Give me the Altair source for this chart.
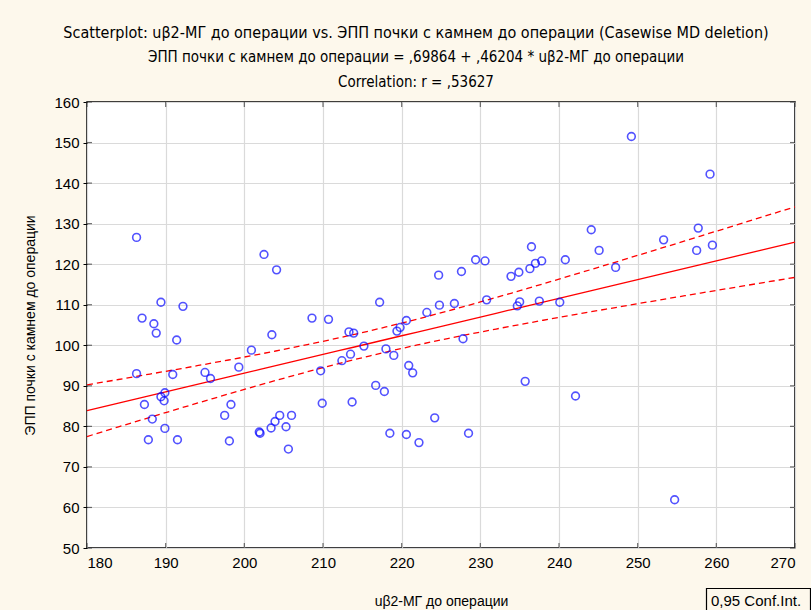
import altair as alt
import numpy as np
import pandas as pd

# uβ2-МГ до операции
x_vals = [186.3, 202.5, 204.1, 189.4, 192.2, 187.0, 188.5, 208.6, 210.7, 188.8,
          191.4, 203.5, 200.9, 186.3, 190.9, 195.0, 195.7, 199.3, 209.7, 189.9,
          189.4, 189.8, 187.3, 198.3, 209.9, 197.5, 188.3, 204.5, 206.0, 203.9,
          203.4, 205.3, 201.9, 202.0, 189.9, 187.8, 191.5, 198.1, 205.6, 236.5,
          229.4, 230.6, 237.8, 237.0, 240.8, 236.3, 234.9, 233.9, 224.7, 227.6,
          217.2, 224.8, 226.7, 230.8, 235.0, 234.7, 237.5, 240.1, 223.2, 220.6,
          219.8, 219.4, 213.3, 213.9, 227.8, 215.2, 218.0, 219.0, 213.5, 212.4,
          220.9, 221.4, 235.7, 216.7, 217.8, 213.7, 224.2, 218.5, 220.6, 228.5,
          222.2, 249.2, 259.2, 244.1, 257.7, 253.3, 245.1, 257.5, 259.5, 247.2,
          242.1, 254.7]
# ЭПП почки с камнем до операции
y_vals = [126.6, 122.4, 118.6, 110.6, 109.6, 106.7, 105.3, 106.7, 106.4, 103.0,
          101.3, 102.6, 98.8, 93.0, 92.8, 93.3, 91.8, 94.6, 93.7, 88.3,
          87.3, 86.3, 85.4, 85.4, 85.7, 82.7, 81.8, 82.7, 82.7, 81.2,
          79.6, 79.9, 78.6, 78.3, 79.5, 76.7, 76.7, 76.4, 74.4, 124.3,
          121.1, 120.8, 120.8, 120.2, 121.1, 118.9, 118.0, 117.0, 117.3, 118.2,
          110.6, 109.9, 110.3, 111.2, 110.7, 109.7, 110.9, 110.6, 108.1, 106.1,
          104.4, 103.5, 103.3, 103.0, 101.6, 99.8, 99.1, 97.5, 97.8, 96.2,
          95.0, 93.2, 91.1, 90.1, 88.6, 86.0, 82.1, 78.3, 78.0, 78.3,
          76.0, 151.5, 142.2, 128.5, 128.9, 126.0, 123.4, 123.4, 124.7, 119.2,
          87.5, 61.9]

intercept = 0.69864
slope = 0.46204
r_value = 0.53627
t_crit = 1.9867  # t(0.975, df = n - 2)

x_ticks = list(range(180, 271, 10))
y_ticks = list(range(50, 161, 10))

X_TITLE = "uβ2-МГ до операции"
Y_TITLE = "ЭПП почки с камнем до операции"


def comma(v):
    return f"{v:.5f}".lstrip("0").replace(".", ",")


title_lines = [
    f"Scatterplot: {X_TITLE} vs. {Y_TITLE} (Casewise MD deletion)",
    f"{Y_TITLE} = {comma(intercept)} + {comma(slope)} * {X_TITLE}",
    f"Correlation: r = {comma(r_value)}",
]

W, H = 708, 446
BG = "#FDF8EC"
NARROW = "Liberation Sans Narrow, Arial Narrow, DejaVu Sans Condensed, sans-serif"
SANS = "Liberation Sans, Arial, sans-serif"

pts = pd.DataFrame({"x": x_vals, "y": y_vals})

# regression line and 95% confidence band for the mean
xa = np.array(x_vals)
ya = np.array(y_vals)
n = len(xa)
resid = ya - (intercept + slope * xa)
s = np.sqrt((resid ** 2).sum() / (n - 2))
sxx = ((xa - xa.mean()) ** 2).sum()
grid = np.linspace(x_ticks[0], x_ticks[-1], 46)
fit = intercept + slope * grid
half = t_crit * s * np.sqrt(1 / n + (grid - xa.mean()) ** 2 / sxx)
band = pd.DataFrame({"x": grid, "fit": fit, "lo": fit - half, "hi": fit + half})

xs = alt.Scale(domain=[x_ticks[0], x_ticks[-1]], nice=False, zero=False)
ys = alt.Scale(domain=[y_ticks[0], y_ticks[-1]], nice=False, zero=False)

x_enc = alt.X(
    "x:Q", scale=xs, title=X_TITLE,
    axis=alt.Axis(values=x_ticks, format="d", labelFontSize=15, labelFont=SANS,
                  labelColor="black", labelPadding=7, ticks=False, domain=False,
                  gridColor="#DADADA", gridWidth=1.2, titleFont=SANS,
                  titleFontSize=14, titleFontWeight="normal", titleColor="black",
                  titlePadding=24),
)

points = alt.Chart(pts).mark_point(
    shape="circle", filled=False, color="#0A0AFF", size=60, strokeWidth=1.6
).encode(
    x=x_enc,
    y=alt.Y(
        "y:Q", scale=ys, title=Y_TITLE,
        axis=alt.Axis(values=y_ticks, format="d", labelFontSize=15, labelFont=SANS,
                      labelColor="black", labelPadding=4, tickSize=4,
                      tickColor="black", domain=False, gridColor="#DADADA",
                      gridWidth=1.2, titleFont=SANS, titleFontSize=14,
                      titleFontWeight="normal", titleColor="black",
                      titlePadding=16),
    ),
)

fit_line = alt.Chart(band).mark_line(color="#FF0000", strokeWidth=1.3).encode(
    x=alt.X("x:Q", scale=xs), y=alt.Y("fit:Q", scale=ys)
)
hi_line = alt.Chart(band).mark_line(
    color="#FF0000", strokeWidth=1.3, strokeDash=[6, 4]
).encode(x=alt.X("x:Q", scale=xs), y=alt.Y("hi:Q", scale=ys))
lo_line = alt.Chart(band).mark_line(
    color="#FF0000", strokeWidth=1.3, strokeDash=[6, 4]
).encode(x=alt.X("x:Q", scale=xs), y=alt.Y("lo:Q", scale=ys))

# short inward tick marks along the frame
xt = pd.DataFrame({"x": x_ticks})
yt = pd.DataFrame({"y": y_ticks})
tick_style = dict(color="#333333", thickness=1.2, size=5)
top_ticks = alt.Chart(xt).mark_tick(orient="vertical", **tick_style).encode(
    x=alt.X("x:Q", scale=xs), y=alt.value(2.5))
bottom_ticks = alt.Chart(xt).mark_tick(orient="vertical", **tick_style).encode(
    x=alt.X("x:Q", scale=xs), y=alt.value(H - 2.5))
left_ticks = alt.Chart(yt).mark_tick(orient="horizontal", **tick_style).encode(
    y=alt.Y("y:Q", scale=ys), x=alt.value(2.5))
right_ticks = alt.Chart(yt).mark_tick(orient="horizontal", **tick_style).encode(
    y=alt.Y("y:Q", scale=ys), x=alt.value(W - 2.5))

# three-line heading
head = pd.DataFrame({"t": title_lines, "yy": [-69, -45, -20],
                     "fs": [16, 15, 15]})
heading = alt.Chart(head).mark_text(
    font=NARROW, color="black", baseline="middle", align="center"
).encode(
    text="t:N", x=alt.value(329), y=alt.Y("yy:Q", scale=None),
    size=alt.Size("fs:Q", scale=None, legend=None),
)

# confidence interval key in the lower right corner
key_box = alt.Chart(pd.DataFrame({"k": [0]})).mark_rect(
    fill=BG, stroke="black", strokeWidth=1.2
).encode(x=alt.value(619.5), x2=alt.value(723.5), y=alt.value(486.5),
         y2=alt.value(512))
key_text = alt.Chart(pd.DataFrame({"t": ["0,95 Conf.Int."]})).mark_text(
    font=SANS, fontSize=15, color="black", align="left", baseline="middle"
).encode(text="t:N", x=alt.value(624), y=alt.value(499))

chart = alt.layer(
    hi_line, lo_line, fit_line, points,
    top_ticks, bottom_ticks, left_ticks, right_ticks,
    heading, key_box, key_text,
).properties(
    width=W, height=H,
    autosize=alt.AutoSizeParams(type="none"),
    padding={"left": 87, "top": 102, "right": 16, "bottom": 62},
    background=BG,
).configure_view(
    fill="white", stroke="black", strokeWidth=1.6
)

chart.save("out.html", embed_options={"renderer": "svg", "actions": False})
